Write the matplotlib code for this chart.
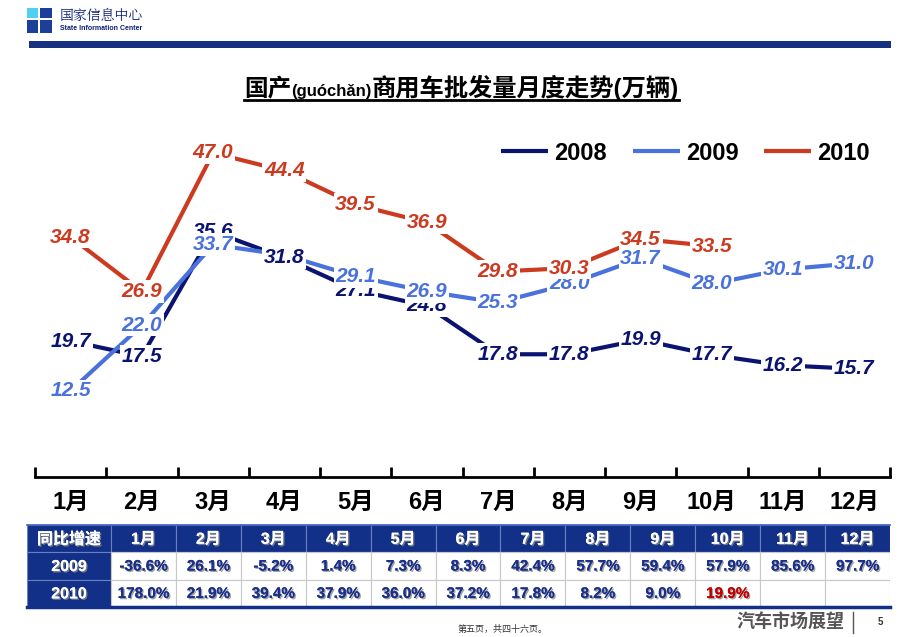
import matplotlib
matplotlib.use("Agg")
import matplotlib.pyplot as plt
import matplotlib.patheffects as pe
from matplotlib.lines import Line2D
from matplotlib.patches import Rectangle

plt.rcParams["font.family"] = ["Liberation Sans", "Noto Sans CJK SC", "DejaVu Sans"]

# data (unit: 10k vehicles)
months = [f"{m}月" for m in range(1, 13)]
sales_2008 = [19.7, 17.5, 35.6, 31.8, 27.1, 24.8, 17.8, 17.8, 19.9, 17.7, 16.2, 15.7]
sales_2009 = [12.5, 22.0, 33.7, 32.2, 29.1, 26.9, 25.3, 28.0, 31.7, 28.0, 30.1, 31.0]
sales_2010 = [34.8, 26.9, 47.0, 44.4, 39.5, 36.9, 29.8, 30.3, 34.5, 33.5]
hidden_2009_labels = [3]  # covered by the 2008 label on the slide

table_corner = "同比增速"
yoy_years = ["2009", "2010"]
yoy_2009 = ["-36.6%", "26.1%", "-5.2%", "1.4%", "7.3%", "8.3%",
            "42.4%", "57.7%", "59.4%", "57.9%", "85.6%", "97.7%"]
yoy_2010 = ["178.0%", "21.9%", "39.4%", "37.9%", "36.0%", "37.2%",
            "17.8%", "8.2%", "9.0%", "19.9%", "", ""]
highlight_2010 = [9]

NAVY = "#0c1f78"
C2008 = "#0a1470"
C2009 = "#4a72dc"
C2010 = "#cc3a20"
TABLE_NAVY = "#123088"

W, H = 920, 637
fig = plt.figure(figsize=(W / 100, H / 100), dpi=100)


def fx(x):
    return x / W


def fy(y):
    return 1 - y / H


# ---- header: logo + name + bar
fig.patches.append(Rectangle((fx(27), fy(33)), fx(25), 25 / H, transform=fig.transFigure,
                             facecolor="#1c3f9a", edgecolor="none"))
fig.patches.append(Rectangle((fx(27), fy(19)), fx(11), 11 / H, transform=fig.transFigure,
                             facecolor="#4fd0f0", edgecolor="none"))
fig.patches.append(Rectangle((fx(38), fy(33)), fx(2), 25 / H, transform=fig.transFigure,
                             facecolor="white", edgecolor="none"))
fig.patches.append(Rectangle((fx(27), fy(20)), fx(25), 2 / H, transform=fig.transFigure,
                             facecolor="white", edgecolor="none"))
fig.text(fx(60), fy(16), "国家信息中心", fontsize=10, color=NAVY, va="center",
         family=["Noto Serif CJK SC", "Noto Sans CJK SC", "DejaVu Sans"])
fig.text(fx(60), fy(29), "State Information Center", fontsize=5, color=NAVY,
         va="center", fontweight="bold")
fig.patches.append(Rectangle((fx(29), fy(48)), fx(862), 7 / H, transform=fig.transFigure,
                             facecolor="#17307f", edgecolor="none"))

# ---- title in three pieces (small pinyin in between)
fig.canvas.draw()
renderer = fig.canvas.get_renderer()
pieces = [("国产", 17), ("(guóchǎn)", 12), ("商用车批发量月度走势(万辆)", 17.5)]
x0 = fx(244)
title_y = fy(96)
left = x0
for txt, size in pieces:
    t = fig.text(x0, title_y, txt, fontsize=size, fontweight="bold", va="baseline",
                 color="black")
    bb = t.get_window_extent(renderer)
    x0 = x0 + bb.width / W
fig.lines.append(Line2D([left, x0], [fy(100), fy(100)], transform=fig.transFigure,
                        color="black", lw=2))

# ---- main line chart
ax = fig.add_axes([fx(35), fy(477), 855 / W, (477 - 115) / H])
series = [("2008", sales_2008, C2008), ("2009", sales_2009, C2009), ("2010", sales_2010, C2010)]
for k, (name, vals, col) in enumerate(series):
    xs = list(range(len(vals)))
    ax.plot(xs, vals, color=col, lw=3, label=name, zorder=2, solid_capstyle="butt")
    for i, v in enumerate(vals):
        if name == "2009" and i in hidden_2009_labels:
            continue
        ax.text(i, v, f"{v:.1f}", ha="center", va="center", color=col,
                fontsize=15, fontweight="bold", fontstyle="italic", zorder=3 + k,
                bbox=dict(facecolor="white", edgecolor="none", pad=1.2))

ax.set_xlim(-0.5, 11.5)
ax.set_ylim(0, 52.5)
for s in ["top", "left", "right"]:
    ax.spines[s].set_visible(False)
ax.spines["bottom"].set_linewidth(2)
ax.set_yticks([])
ax.set_xticks(range(12), months)
ax.set_xticks([i - 0.5 for i in range(13)], minor=True)
ax.tick_params(axis="x", which="major", length=0, pad=10, labelsize=17)
for lab in ax.get_xticklabels():
    lab.set_fontweight("bold")
ax.tick_params(axis="x", which="minor", direction="in", length=7, width=2)

ax.legend(loc="center right", bbox_to_anchor=(fx(870), fy(153)),
          bbox_transform=fig.transFigure, ncol=3, frameon=False,
          prop=dict(size=17, weight="bold"), handlelength=2.0, handletextpad=0.25,
          columnspacing=1.1, borderpad=0, borderaxespad=0)

# ---- yoy table
tab = fig.add_axes([fx(27), fy(607), 863 / W, (607 - 525) / H])
col_w = [84] + [64.92] * 12
edges = [0]
for w in col_w:
    edges.append(edges[-1] + w)
tab.set_xlim(0, edges[-1])
tab.set_ylim(3, 0)
tab.axis("off")

shadow = [pe.withSimplePatchShadow(offset=(1, -1), shadow_rgbFace="#8a8a8a", alpha=0.8),
          pe.Normal()]
rows = [[table_corner] + months,
        [yoy_years[0]] + yoy_2009,
        [yoy_years[1]] + yoy_2010]
for r, row in enumerate(rows):
    for c, txt in enumerate(row):
        is_head = r == 0 or c == 0
        face = TABLE_NAVY if is_head else "white"
        tab.add_patch(Rectangle((edges[c], r), col_w[c], 1, facecolor=face,
                                edgecolor="#c8c8c8" if not is_head else "#6a7fc0", lw=0.8))
        if not txt:
            continue
        if is_head:
            tab.text(edges[c] + col_w[c] / 2, r + 0.52, txt, ha="center", va="center",
                     color="white", fontsize=11.5, fontweight="bold", path_effects=shadow)
        else:
            col = "#c00000" if (r == 2 and c - 1 in highlight_2010) else "#1a2f8a"
            tab.text(edges[c] + col_w[c] / 2, r + 0.52, txt, ha="center", va="center",
                     color=col, fontsize=11, fontweight="bold", path_effects=shadow)
tab.plot([0, edges[-1]], [3, 3], color=TABLE_NAVY, lw=2.5, clip_on=False)
tab.plot([0, edges[-1]], [0, 0], color="#3a5cc0", lw=1.2, clip_on=False)

# ---- footer
fig.text(fx(503), fy(629), "第五页，共四十六页。", fontsize=6.5, color="#333333",
         ha="center", va="center")
fig.text(fx(790), fy(622), "汽车市场展望", fontsize=13, color="#555555",
         fontweight="bold", ha="center", va="center")
fig.lines.append(Line2D([fx(853), fx(853)], [fy(612), fy(633)], transform=fig.transFigure,
                        color="#555555", lw=1))
fig.text(fx(880), fy(622), "5", fontsize=7, color="#333333", fontweight="bold",
         ha="center", va="center")

fig.savefig("out.png", dpi=100)
